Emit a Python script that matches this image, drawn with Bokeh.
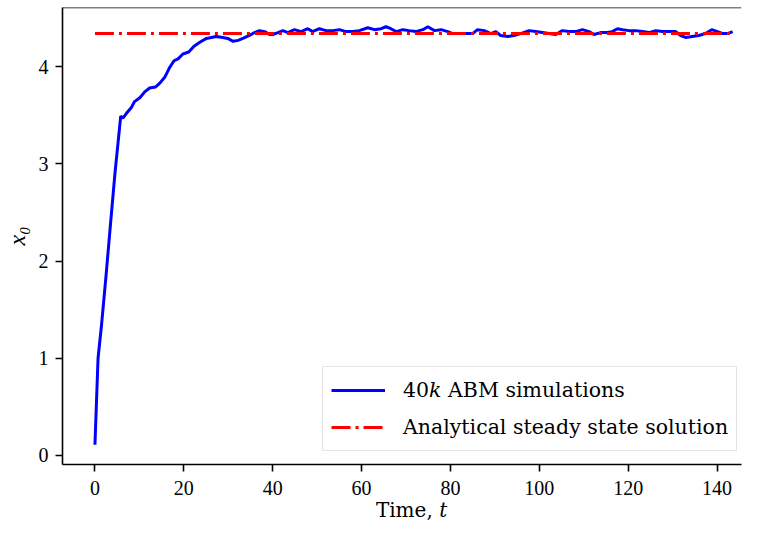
from bokeh.plotting import figure
from bokeh.models import Range1d, FixedTicker, Span
from bokeh.embed import file_html
from bokeh.resources import INLINE

# ---- data ----
t_abm = [0.0, 0.7, 1.5, 2.5, 3.5, 4.5, 5.8, 6.3, 7.1, 8.2, 8.9, 10.1, 11.2, 12.3,
         13.6, 14.6, 15.7, 16.8, 17.8, 18.7, 19.8, 21.1, 22.3, 23.6, 25.1, 26.2,
         27.3, 28.8, 29.9, 31.1, 32.2, 33.3, 34.8, 35.9, 37.0, 38.2, 39.3, 40.0,
         41.2, 42.3, 43.4, 44.9, 46.4, 47.9, 49.0, 50.5, 52.0, 53.5, 55.0, 56.5,
         58.0, 59.5, 61.4, 62.9, 64.4, 65.5, 66.6, 67.8, 69.3, 70.7, 72.2, 73.8,
         74.9, 76.4, 77.9, 79.4, 80.5, 82.0, 83.5, 85.0, 86.1, 87.6, 89.1, 90.2,
         91.3, 92.9, 94.3, 95.8, 97.7, 99.2, 100.7, 102.2, 103.7, 105.2, 106.7,
         108.2, 109.7, 111.2, 112.3, 113.8, 115.3, 116.4, 117.6, 118.7, 120.2,
         121.7, 123.2, 124.7, 126.2, 127.7, 129.2, 130.7, 131.8, 132.9, 134.4,
         135.9, 137.4, 138.8, 140.1, 141.3, 142.4, 143.5]
x0_abm = [0.11, 1.0, 1.35, 1.85, 2.38, 2.9, 3.49, 3.47, 3.52, 3.58, 3.64, 3.68, 3.74, 3.78,
          3.79, 3.83, 3.89, 3.99, 4.06, 4.08, 4.13, 4.15, 4.21, 4.25, 4.29, 4.30,
          4.31, 4.30, 4.29, 4.26, 4.27, 4.29, 4.32, 4.35, 4.37, 4.36, 4.33, 4.33,
          4.35, 4.37, 4.35, 4.38, 4.36, 4.39, 4.36, 4.39, 4.37, 4.37, 4.38, 4.36,
          4.36, 4.37, 4.40, 4.38, 4.39, 4.41, 4.39, 4.36, 4.38, 4.37, 4.36, 4.38,
          4.41, 4.37, 4.38, 4.36, 4.34, 4.34, 4.34, 4.34, 4.38, 4.37, 4.34, 4.36,
          4.32, 4.31, 4.32, 4.34, 4.37, 4.36, 4.35, 4.34, 4.33, 4.37, 4.36,
          4.36, 4.38, 4.36, 4.33, 4.35, 4.35, 4.36, 4.39, 4.38, 4.37,
          4.37, 4.36, 4.35, 4.37, 4.36, 4.36, 4.36, 4.32, 4.30, 4.31,
          4.32, 4.34, 4.38, 4.36, 4.34, 4.34, 4.36]
t_steady = [0.0, 144.0]
x0_steady = [4.34, 4.34]

x_ticks = [0, 20, 40, 60, 80, 100, 120, 140]
y_ticks = [0, 1, 2, 3, 4]

label_abm = "40\U0001D458 ABM simulations"
label_steady = "Analytical steady state solution"
x_label = "\u00a0\u00a0\u00a0Time, \U0001D461"
y_label = "x\u2080"

FONT = "Liberation Serif"
WIDE = "DejaVu Serif"

p = figure(width=742, height=526, output_backend="svg", toolbar_location=None,
           x_range=Range1d(-7.3, 145.5), y_range=Range1d(-0.093, 4.608),
           min_border_left=61, min_border_right=1, min_border_top=7,
           min_border_bottom=62, title=None)
p.outline_line_color = None
p.xgrid.visible = False
p.ygrid.visible = False

r1 = p.line(t_abm, x0_abm, line_color="#0000ff", line_width=3, legend_label=label_abm)
r2 = p.line(t_steady, x0_steady, line_color="#ff0000", line_width=3,
            line_dash="19 5 3 5", legend_label=label_steady)

for ax in (p.xaxis[0], p.yaxis[0]):
    ax.axis_line_width = 1.6
    ax.major_tick_line_width = 1.6
    ax.major_tick_out = 7
    ax.major_tick_in = 0
    ax.minor_tick_line_color = None
    ax.major_label_text_font = FONT
    ax.major_label_text_font_size = "20px"
    ax.major_label_text_color = "black"
    ax.axis_line_color = "black"
    ax.major_tick_line_color = "black"

p.xaxis[0].ticker = FixedTicker(ticks=x_ticks)
p.yaxis[0].ticker = FixedTicker(ticks=y_ticks)
p.xaxis[0].major_label_standoff = 9
p.yaxis[0].major_label_standoff = 7

p.yaxis[0].axis_label = y_label
p.yaxis[0].axis_label_text_font = FONT
p.yaxis[0].axis_label_text_font_style = "italic"
p.yaxis[0].axis_label_text_font_size = "24px"
p.yaxis[0].axis_label_standoff = 6
p.yaxis[0].axis_label_text_color = "black"

p.xaxis[0].axis_label = x_label
p.xaxis[0].axis_label_text_font = WIDE
p.xaxis[0].axis_label_text_font_style = "normal"
p.xaxis[0].axis_label_text_font_size = "20px"
p.xaxis[0].axis_label_standoff = 0
p.xaxis[0].axis_label_text_color = "black"

top = Span(location=4.608, dimension="width", line_color="black", line_width=1.6)
p.add_layout(top)

lg = p.legend[0]
lg.location = (260, 13)
lg.margin = 0
lg.padding = 8
lg.spacing = 7
lg.glyph_width = 54
lg.glyph_height = 30
lg.label_height = 30
lg.label_standoff = 18
lg.label_text_font = WIDE
lg.label_text_font_size = "20.5px"
lg.label_text_color = "black"
lg.border_line_color = "#cccccc"
lg.border_line_width = 1
lg.background_fill_color = "white"
lg.background_fill_alpha = 0.8

open("out.html", "w").write(file_html(p, INLINE))
